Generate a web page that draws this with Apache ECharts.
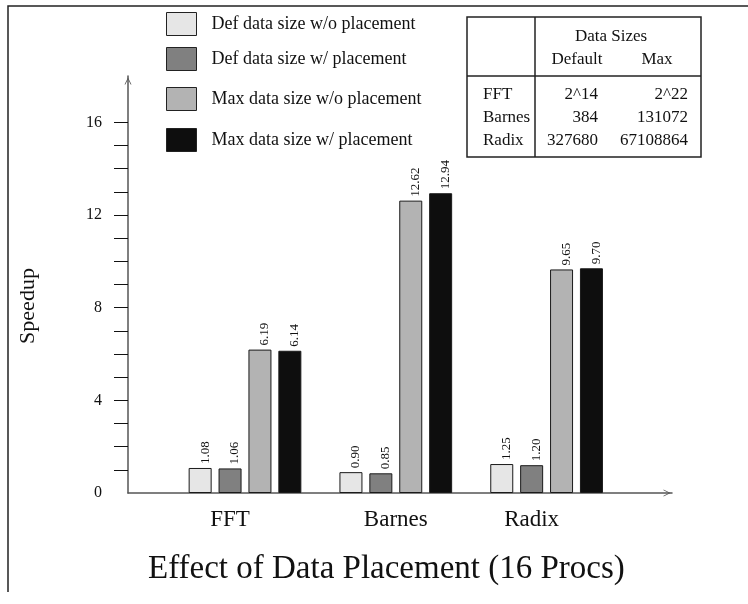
<!DOCTYPE html>
<html>
<head>
<meta charset="utf-8">
<script src="https://cdn.jsdelivr.net/npm/echarts@6/dist/echarts.min.js"></script>
<style>html,body{margin:0;padding:0;background:#fff}#c{width:748px;height:604px}</style>
</head>
<body>
<div id="c"></div>
<script>
// ---- data ----
const categories = ['FFT', 'Barnes', 'Radix'];
const seriesNames = [
  'Def data size w/o placement',
  'Def data size w/ placement',
  'Max data size w/o placement',
  'Max data size w/ placement'
];
const defNoPlacement = [1.08, 0.90, 1.25];
const defPlacement = [1.06, 0.85, 1.20];
const maxNoPlacement = [6.19, 12.62, 9.65];
const maxPlacement = [6.14, 12.94, 9.70];
const yTickValues = [1, 2, 3, 4, 5, 6, 7, 8, 9, 10, 11, 12, 13, 14, 15, 16];
const yLabelValues = [0, 4, 8, 12, 16];
const tableHeader = 'Data Sizes';
const tableColumns = ['Default', 'Max'];
const tableApps = ['FFT', 'Barnes', 'Radix'];
const tableDefault = ['2^14', '384', '327680'];
const tableMax = ['2^22', '131072', '67108864'];
const chartTitle = 'Effect of Data Placement (16 Procs)';
const yAxisName = 'Speedup';

// ---- styling ----
const SERIF = '"Liberation Serif", "Times New Roman", serif';
const colors = ['#e6e6e6', '#808080', '#b3b3b3', '#0e0e0e'];
const allSeries = [defNoPlacement, defPlacement, maxNoPlacement, maxPlacement];
const legendTops = [12, 47, 87, 128];
const catLabelPad = [[0, 30, 0, 0], [0, 0, 0, 0], [0, 30, 0, 0]];
const arrow = 'path://M5,0 L10,10 L8.8,10 L5,2.4 L1.2,10 L0,10 Z';

const chart = echarts.init(document.getElementById('c'), null, {renderer: 'canvas'});

const tableGraphics = [];
tableGraphics.push({type: 'rect', shape: {x: 467, y: 17, width: 234, height: 140}, style: {fill: '#fff', stroke: '#222', lineWidth: 1.5}});
tableGraphics.push({type: 'line', shape: {x1: 535, y1: 17, x2: 535, y2: 157}, style: {stroke: '#222', lineWidth: 1.5}});
tableGraphics.push({type: 'line', shape: {x1: 467, y1: 76, x2: 701, y2: 76}, style: {stroke: '#222', lineWidth: 1.5}});
tableGraphics.push({type: 'text', x: 611, y: 37, style: {text: tableHeader, font: '17px ' + SERIF, fill: '#111', align: 'center', verticalAlign: 'middle'}});
tableGraphics.push({type: 'text', x: 577, y: 60, style: {text: tableColumns[0], font: '17px ' + SERIF, fill: '#111', align: 'center', verticalAlign: 'middle'}});
tableGraphics.push({type: 'text', x: 657, y: 60, style: {text: tableColumns[1], font: '17px ' + SERIF, fill: '#111', align: 'center', verticalAlign: 'middle'}});
const rowYs = [95, 118, 141];
tableApps.forEach((app, i) => {
  tableGraphics.push({type: 'text', x: 483, y: rowYs[i], style: {text: app, font: '17px ' + SERIF, fill: '#111', align: 'left', verticalAlign: 'middle'}});
  tableGraphics.push({type: 'text', x: 598, y: rowYs[i], style: {text: tableDefault[i], font: '17px ' + SERIF, fill: '#111', align: 'right', verticalAlign: 'middle'}});
  tableGraphics.push({type: 'text', x: 688, y: rowYs[i], style: {text: tableMax[i], font: '17px ' + SERIF, fill: '#111', align: 'right', verticalAlign: 'middle'}});
});

const catRich = {};
categories.forEach((c, i) => {
  catRich['c' + i] = {fontFamily: SERIF, fontSize: 23, color: '#111', padding: catLabelPad[i]};
});

const option = {
  animation: false,
  backgroundColor: '#fff',
  title: {
    text: chartTitle,
    left: 148, top: 553, padding: 0,
    textStyle: {fontFamily: SERIF, fontSize: 33, fontWeight: 'normal', color: '#111'}
  },
  legend: seriesNames.map((n, i) => ({
    data: [n], left: 166, top: legendTops[i], orient: 'vertical', padding: 0,
    itemWidth: 30, itemHeight: 23, icon: 'rect', selectedMode: false,
    itemStyle: {borderColor: '#222', borderWidth: 1},
    textStyle: {fontFamily: SERIF, fontSize: 18, color: '#111', padding: [0, 0, 0, 10]}
  })),
  grid: [
    {left: 128, right: 76, top: 76, bottom: 111},
    {left: 169.6, right: 126, top: 76, bottom: 111}
  ],
  xAxis: [
    {
      gridIndex: 0, type: 'value', min: 0, max: 1,
      axisLine: {show: true, lineStyle: {color: '#555', width: 1.5}, symbol: ['none', arrow], symbolSize: [7, 10], symbolOffset: [0, -5]},
      axisTick: {show: false}, axisLabel: {show: false}, splitLine: {show: false}
    },
    {
      gridIndex: 1, type: 'category', data: categories,
      axisLine: {show: false}, axisTick: {show: false}, splitLine: {show: false},
      axisLabel: {
        margin: 15, fontFamily: SERIF, fontSize: 23, color: '#111',
        formatter: (v, idx) => '{c' + idx + '|' + v + '}',
        rich: catRich
      }
    }
  ],
  yAxis: [
    {
      gridIndex: 0, type: 'value', min: 0, max: 18,
      axisLine: {show: true, lineStyle: {color: '#555', width: 1.5}, symbol: ['none', arrow], symbolSize: [7, 10], symbolOffset: [0, -5]},
      axisTick: {show: true, inside: false, length: 14, customValues: yTickValues, lineStyle: {color: '#111', width: 1}},
      axisLabel: {show: true, customValues: yLabelValues, margin: 26, fontFamily: SERIF, fontSize: 16, color: '#111'},
      splitLine: {show: false}
    },
    {
      gridIndex: 1, type: 'value', min: 0, max: 18, show: false, splitLine: {show: false}
    }
  ],
  series: allSeries.map((d, i) => ({
    name: seriesNames[i], type: 'bar', xAxisIndex: 1, yAxisIndex: 1, data: d,
    barWidth: 23, barGap: '30%',
    itemStyle: {color: colors[i], borderColor: '#1a1a1a', borderWidth: 1},
    label: {
      show: true, position: 'top', rotate: 90, align: 'left', verticalAlign: 'middle',
      distance: 4, offset: [0, 5], fontFamily: SERIF, fontSize: 13, color: '#111',
      formatter: p => p.value.toFixed(2)
    }
  })),
  graphic: [
    {type: 'polyline', shape: {points: [[8, 592], [8, 6], [748, 6]]}, style: {stroke: '#222', lineWidth: 1.5, fill: null}, silent: true},
    {type: 'text', x: 28, y: 306, rotation: Math.PI / 2, style: {text: yAxisName, font: '22px ' + SERIF, fill: '#111', align: 'center', verticalAlign: 'middle'}},
    {type: 'group', children: tableGraphics}
  ]
};
chart.setOption(option);
</script>
</body>
</html>
